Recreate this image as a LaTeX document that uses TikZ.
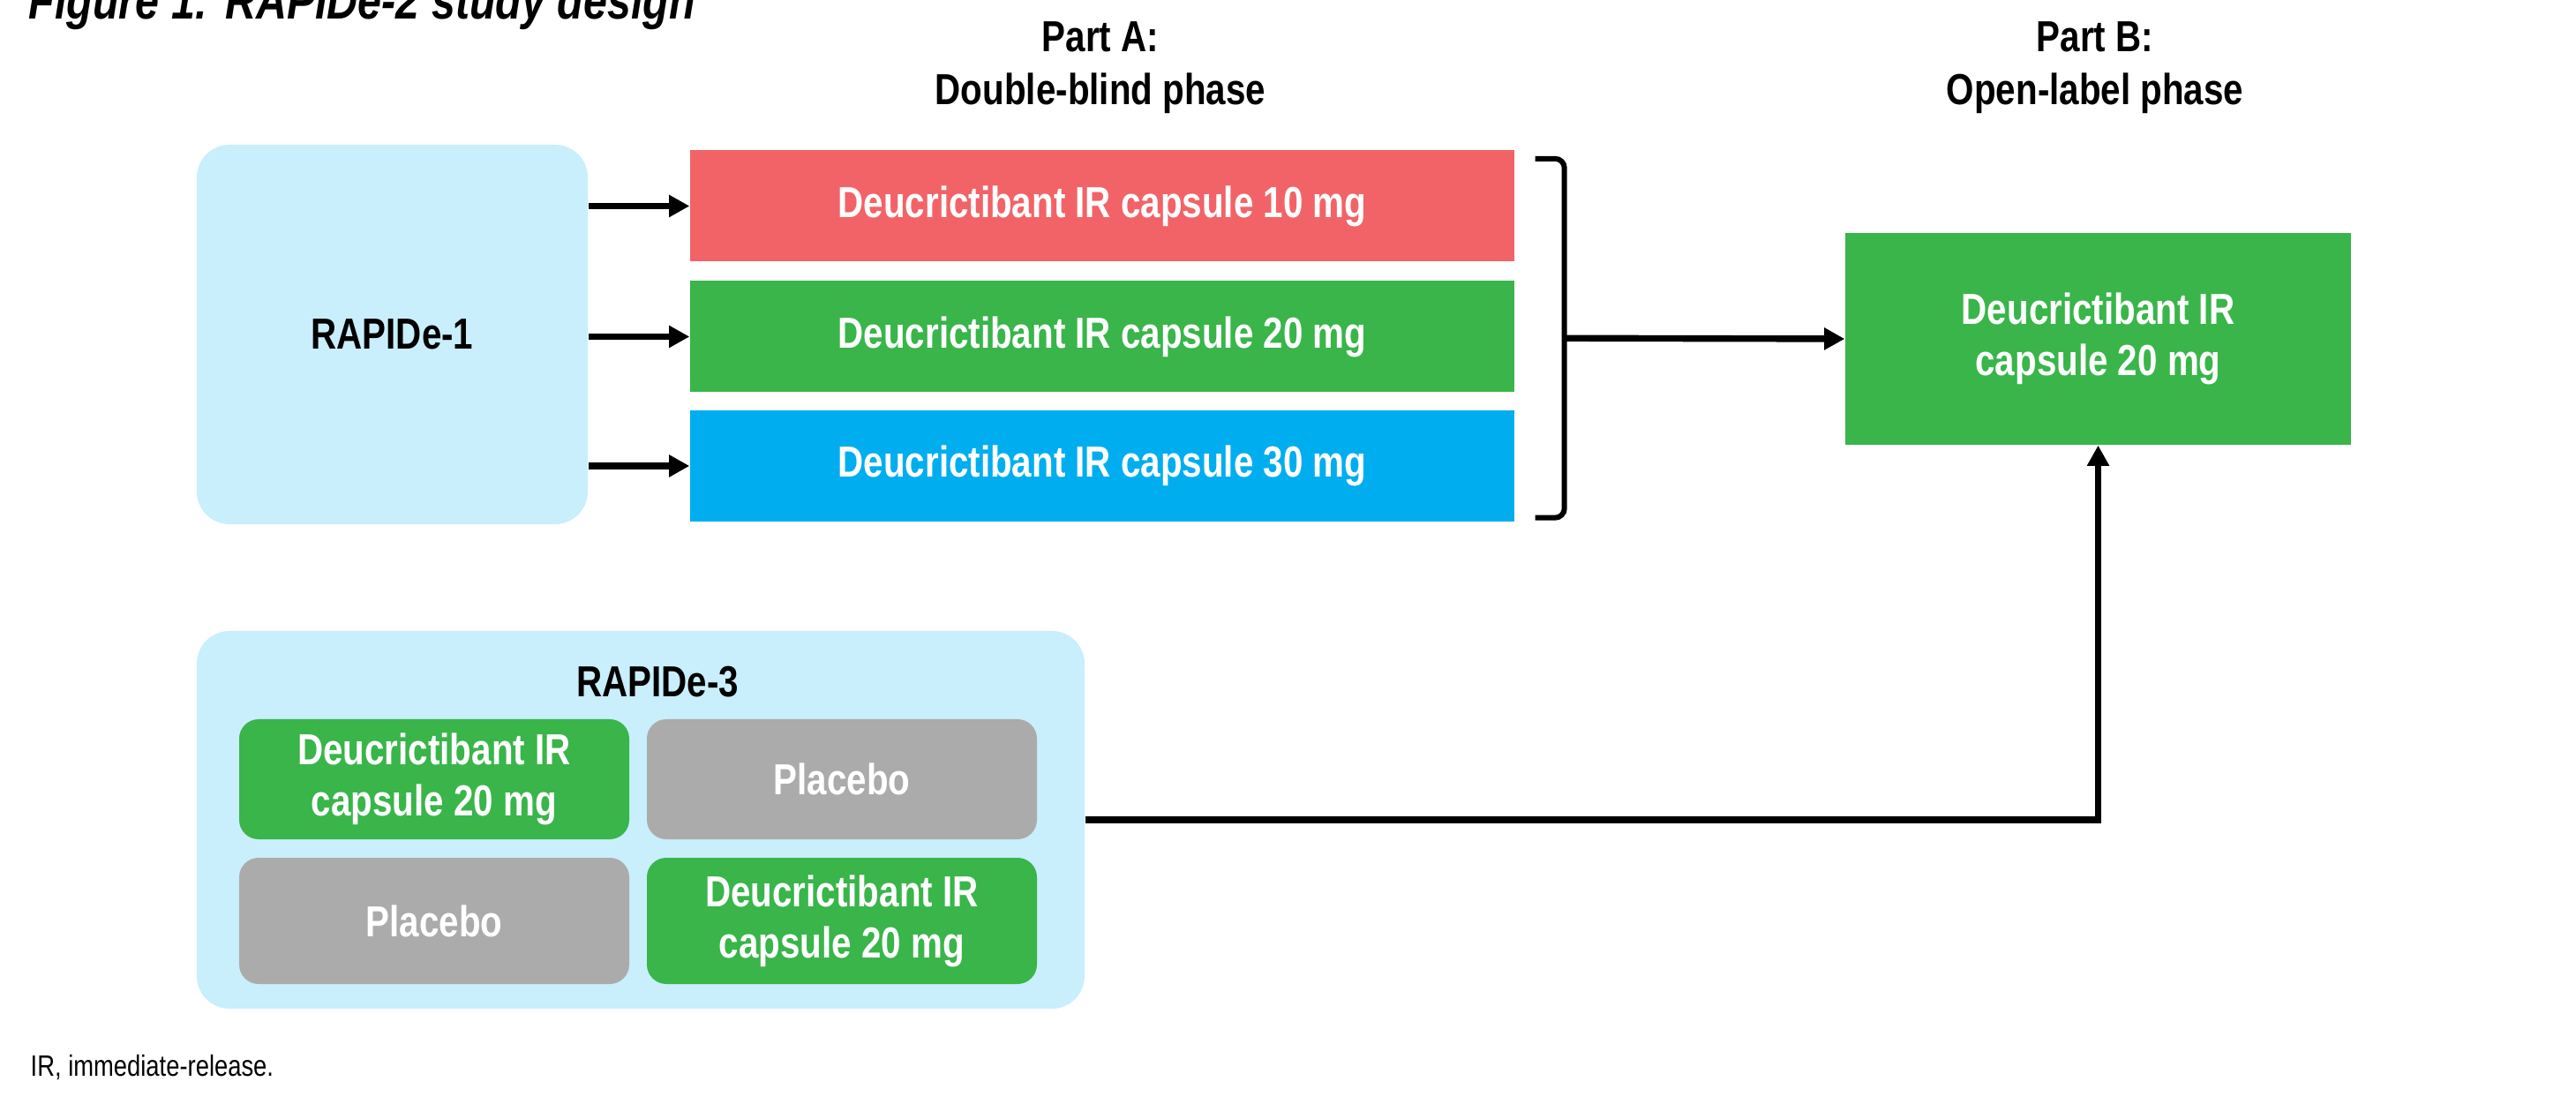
\documentclass[tikz,border=0pt]{standalone}
\usepackage{fontspec}
\setmainfont{Liberation Sans}[FakeStretch=0.82]
\usetikzlibrary{calc,arrows.meta}
\definecolor{studyblue}{RGB}{201,238,252}
\definecolor{armred}{RGB}{242,99,103}
\definecolor{armgreen}{RGB}{57,181,74}
\definecolor{armblue}{RGB}{0,174,239}
\definecolor{placebogray}{RGB}{171,171,171}
\tikzstyle{arrow} = [line width=2.1pt,->,>={Triangle[length=6.6pt,width=6.8pt]}]
\tikzstyle{heavy} = [font=\bfseries\fontsize{14}{16.5}\selectfont]
\tikzstyle{study} = [heavy,fill=studyblue,rounded corners=0.37cm]
\tikzstyle{arm} = [heavy,minimum width=9.34cm,minimum height=1.26cm,text=white]
\tikzstyle{cell} = [heavy,rounded corners=0.22cm,minimum width=4.42cm,text=white,align=center]

\begin{document}
\begin{tikzpicture}
            \useasboundingbox (0,0) rectangle (29.19,-12.51);
            % title, cut off by the top edge
            \node[anchor=base west,inner sep=0,font=\bfseries\itshape\fontsize{16.8}{20}\selectfont] (title) at (0.32,-0.22) {Figure 1: RAPIDe-2 study design};

            % phase headings
            \node[heavy,align=center,font=\bfseries\fontsize{14}{17}\selectfont] (parta) at (12.47,-0.765) {Part A:\\Double-blind phase};
            \node[heavy,align=center,font=\bfseries\fontsize{14}{17}\selectfont] (partbhead) at (23.74,-0.765) {Part B:\\Open-label phase};

            % RAPIDe-1 and the three arms
            \node[study,minimum width=4.43cm,minimum height=4.30cm] (rapide1) at (4.445,-3.79) {RAPIDe-1};
            \node[arm,fill=armred] (arm10) at (12.49,-2.335) {Deucrictibant IR capsule 10 mg};
            \node[arm,fill=armgreen] (arm20) at (12.49,-3.815) {Deucrictibant IR capsule 20 mg};
            \node[arm,fill=armblue] (arm30) at (12.49,-5.28) {Deucrictibant IR capsule 30 mg};
            \draw[arrow] (rapide1.east |- arm10) -- (arm10.west);
            \draw[arrow] (rapide1.east |- arm20) -- (arm20.west);
            \draw[arrow] (rapide1.east |- arm30) -- (arm30.west);

            % open-label box
            \node[heavy,fill=armgreen,minimum width=5.73cm,minimum height=2.40cm,text=white,align=center] (partb) at (23.775,-3.84) {Deucrictibant IR\\capsule 20 mg};

            % bracket
            \coordinate (btop) at ($(arm10.north east)+(0.23,-0.1)$);
            \coordinate (bbot) at ($(arm30.south east)+(0.23,0.05)$);
            \coordinate (bmid) at ($($(btop)!0.5!(bbot)$)+(0.33,0)$);
            \draw[line width=1.7pt,rounded corners=3pt] (btop) -- ++(0.33,0) |- (bbot);
            \draw[arrow] (bmid) -- (partb.west);

            % RAPIDe-3
            \node[study,minimum width=10.06cm,minimum height=4.28cm] (rapide3) at (7.26,-9.29) {};
            \node[heavy] (rapide3label) at (7.45,-7.73) {RAPIDe-3};
            \node[cell,fill=armgreen,minimum height=1.36cm] (cellA) at (4.92,-8.83) {Deucrictibant IR\\capsule 20 mg};
            \node[cell,fill=placebogray,minimum height=1.36cm] (cellB) at (9.54,-8.83) {Placebo};
            \node[cell,fill=placebogray,minimum height=1.43cm] (cellC) at (4.92,-10.435) {Placebo};
            \node[cell,fill=armgreen,minimum height=1.43cm] (cellD) at (9.54,-10.435) {Deucrictibant IR\\capsule 20 mg};
            \draw[arrow] (rapide3.east) -| (partb.south);

            % footnote
            \node[anchor=west,inner sep=0,font=\fontsize{9.5}{11}\selectfont] (note) at (0.34,-12.10) {IR, immediate-release.};
        \end{tikzpicture}
\end{document}
